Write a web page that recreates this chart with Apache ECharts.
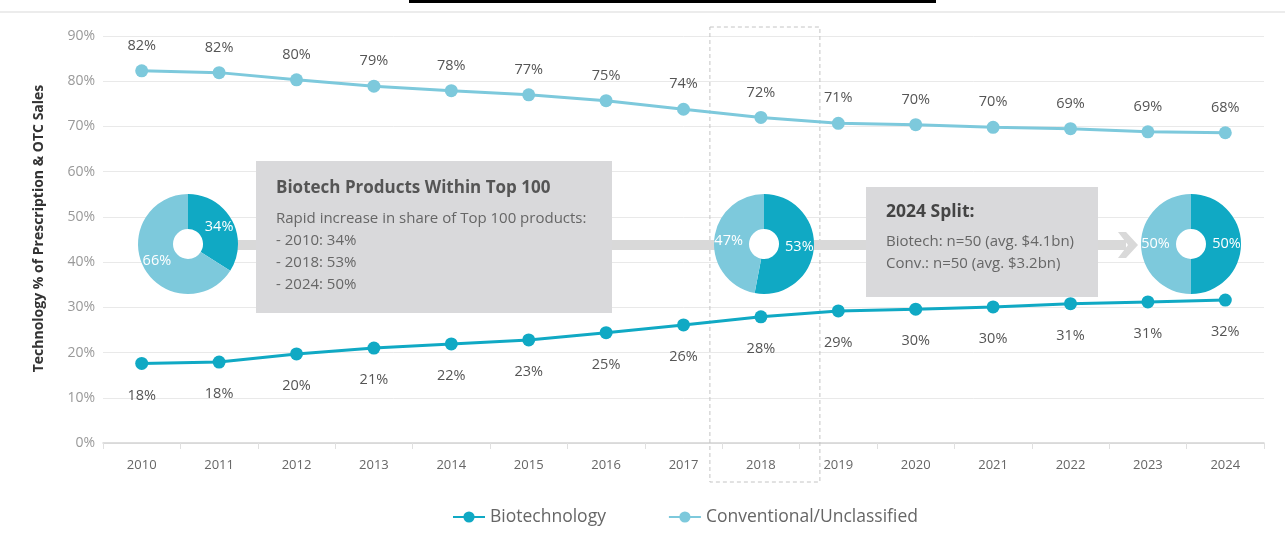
<!DOCTYPE html>
<html>
<head>
<meta charset="utf-8">
<script src="https://cdn.jsdelivr.net/npm/echarts@6/dist/echarts.min.js"></script>
<style>
html,body{margin:0;padding:0;background:#fff;}
#chart{width:1285px;height:536px;}
</style>
</head>
<body>
<div id="chart"></div>
<script>
// ---- data ----
const years = ['2010','2011','2012','2013','2014','2015','2016','2017','2018','2019','2020','2021','2022','2023','2024'];
const biotech = [17.6, 17.9, 19.7, 21.0, 21.9, 22.8, 24.4, 26.1, 27.9, 29.2, 29.6, 30.1, 30.8, 31.2, 31.6];
const biotechLabels = ['18%','18%','20%','21%','22%','23%','25%','26%','28%','29%','30%','30%','31%','31%','32%'];
const conventional = [82.3, 81.9, 80.3, 78.9, 77.9, 77.0, 75.7, 73.8, 72.0, 70.7, 70.4, 69.8, 69.5, 68.8, 68.6];
const conventionalLabels = ['82%','82%','80%','79%','78%','77%','75%','74%','72%','71%','70%','70%','69%','69%','68%'];
const pie2010 = [34, 66];
const pie2018 = [53, 47];
const pie2024 = [50, 50];
const yTicks = [0, 10, 20, 30, 40, 50, 60, 70, 80, 90];

const DARK = '#10a9c4';
const LIGHT = '#7dc9dc';
const FONT = '"Open Sans", Lato, sans-serif';

const chart = echarts.init(document.getElementById('chart'));

function pieSeries(center, vals) {
  return {
    type: 'pie',
    center: center,
    radius: [15, 50],
    startAngle: 90,
    clockwise: true,
    z: 5,
    silent: true,
    label: {
      show: true, position: 'inside', color: '#fff', fontSize: 14.5, fontFamily: FONT,
      formatter: p => p.value + '%'
    },
    labelLine: {show: false},
    itemStyle: {borderWidth: 0},
    data: [
      {value: vals[0], itemStyle: {color: DARK}},
      {value: vals[1], itemStyle: {color: LIGHT}}
    ]
  };
}

const option = {
  backgroundColor: '#fff',
  animation: false,
  textStyle: {fontFamily: FONT},
  grid: {left: 103, right: 21, top: 36, bottom: 93},
  legend: {
    left: 447, top: 503,
    itemWidth: 32, itemHeight: 14, itemGap: 62,
    textStyle: {fontSize: 17.5, color: '#666', fontFamily: FONT},
    data: ['Biotechnology', 'Conventional/Unclassified']
  },
  xAxis: {
    type: 'category',
    data: years,
    boundaryGap: true,
    axisLine: {lineStyle: {color: '#d4d4d4', width: 1.5}},
    axisTick: {show: true, length: 6, lineStyle: {color: '#e0e0e0'}},
    axisLabel: {color: '#666', fontSize: 13, margin: 16, fontFamily: FONT}
  },
  yAxis: {
    type: 'value',
    min: yTicks[0], max: yTicks[yTicks.length - 1], interval: 10,
    name: 'Technology % of Prescription & OTC Sales',
    nameLocation: 'middle', nameGap: 57,
    nameTextStyle: {fontWeight: 'bold', fontSize: 14, color: '#333', fontFamily: FONT, padding: [0, 0, 0, 22]},
    axisLine: {show: false},
    axisTick: {show: false},
    axisLabel: {color: '#999', fontSize: 14, margin: 8, formatter: v => v + '%', fontFamily: FONT},
    splitLine: {lineStyle: {color: '#e9e9e9', width: 1}}
  },
  series: [
    {
      name: 'Biotechnology', type: 'line', data: biotech,
      symbol: 'circle', symbolSize: 13, z: 4,
      lineStyle: {color: DARK, width: 3},
      itemStyle: {color: DARK},
      label: {show: true, position: 'bottom', distance: 18, color: '#555', fontSize: 14.5, fontFamily: FONT,
        formatter: p => biotechLabels[p.dataIndex]}
    },
    {
      name: 'Conventional/Unclassified', type: 'line', data: conventional,
      symbol: 'circle', symbolSize: 13, z: 4,
      lineStyle: {color: LIGHT, width: 3},
      itemStyle: {color: LIGHT},
      label: {show: true, position: 'top', distance: 11, color: '#555', fontSize: 14.5, fontFamily: FONT,
        formatter: p => conventionalLabels[p.dataIndex]}
    },
    pieSeries([188, 244], pie2010),
    pieSeries([764, 244], pie2018),
    pieSeries([1191, 244], pie2024)
  ]
};
chart.setOption(option);

// annotations positioned from the axis scale
const x2018 = chart.convertToPixel({xAxisIndex: 0}, '2018');
const graphics = [
  {type: 'rect', shape: {x: 409, y: 0, width: 527, height: 3}, style: {fill: '#000'}, z: 10},
  {type: 'rect', shape: {x: 0, y: 11, width: 1285, height: 2}, style: {fill: '#ececec'}, z: 10},
  {type: 'rect', shape: {x: x2018 - 51, y: 27, width: 110, height: 455},
    style: {fill: 'none', stroke: '#c4c4c4', lineWidth: 1, lineDash: [4, 3]}, z: 1, silent: true},
  // arrow bar
  {type: 'rect', shape: {x: 236, y: 240, width: 482, height: 10}, style: {fill: '#d9d9d9'}, z: 1},
  {type: 'rect', shape: {x: 812, y: 240, width: 314, height: 10}, style: {fill: '#d9d9d9'}, z: 1},
  {type: 'polygon', shape: {points: [[1118, 232], [1126, 232], [1138, 245], [1126, 258], [1118, 258], [1128, 245]]},
    style: {fill: '#d9d9d9'}, z: 1},
  // box 1
  {type: 'rect', shape: {x: 256, y: 161, width: 356, height: 152}, style: {fill: '#d9d9db'}, z: 2},
  {type: 'text', x: 276, y: 180, z: 3,
    style: {text: 'Biotech Products Within Top 100', fill: '#555', font: 'bold 17px ' + FONT}},
  {type: 'text', x: 276, y: 208, z: 3,
    style: {text: 'Rapid increase in share of Top 100 products:\n- 2010: 34%\n- 2018: 53%\n- 2024: 50%',
      fill: '#666', font: '15px ' + FONT, lineHeight: 22}},
  // box 2
  {type: 'rect', shape: {x: 866, y: 187, width: 232, height: 110}, style: {fill: '#d9d9db'}, z: 2},
  {type: 'text', x: 886, y: 203, z: 3,
    style: {text: '2024 Split:', fill: '#444', font: 'bold 17.5px ' + FONT}},
  {type: 'text', x: 886, y: 231, z: 3,
    style: {text: 'Biotech: n=50 (avg. $4.1bn)\nConv.: n=50 (avg. $3.2bn)',
      fill: '#666', font: '15px ' + FONT, lineHeight: 22}}
];
chart.setOption({graphic: graphics});
</script>
</body>
</html>
